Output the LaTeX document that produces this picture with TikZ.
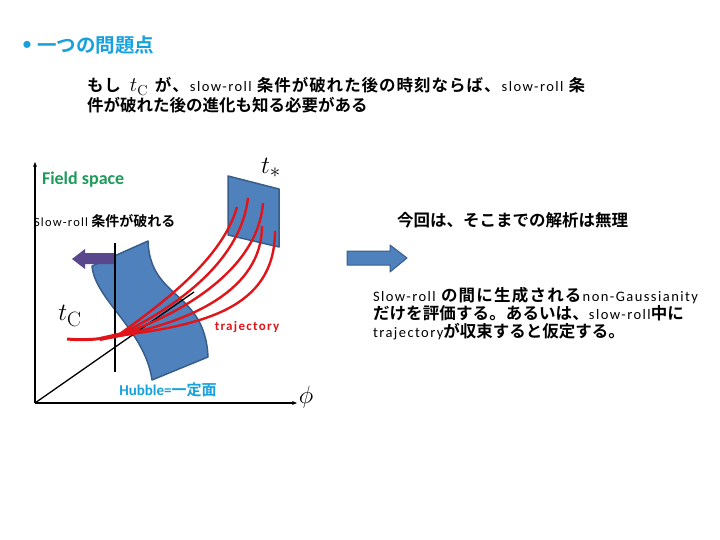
\documentclass[tikz,border=0pt]{standalone}
\usepackage[no-math]{fontspec}
\setmainfont{Carlito}
\newfontfamily\jp{Noto Sans CJK JP}[BoldFont={Noto Sans CJK JP Bold}]
\newfontfamily\latsp{Carlito}[LetterSpace=10]
\usetikzlibrary{arrows.meta}
\definecolor{hcyan}{RGB}{22,160,220}
\definecolor{fgreen}{RGB}{30,155,90}
\definecolor{apurple}{RGB}{90,70,140}
\definecolor{sblue}{RGB}{79,129,189}
\definecolor{sedge}{RGB}{56,93,138}
\definecolor{trajc}{RGB}{225,20,25}
\newcommand{\Jb}[1]{{\jp\bfseries #1}}
\newcommand{\Lt}[1]{{\latsp\mdseries\fontsize{14.5}{16}\selectfont #1}}
\newcommand{\Lr}[1]{{\latsp\mdseries\fontsize{14.5}{16}\selectfont #1}}
\newcommand{\G}{\hskip 0pt plus 1fil}
\tikzset{
  surf/.style={fill=sblue, draw=sedge, line width=1.5pt, line join=round},
  axisline/.style={line width=1.6pt, -{Stealth[length=5pt,width=4pt]}},
  trajline/.style={draw=trajc, line width=2.4pt},
  jptxt/.style={anchor=base west, font=\jp\bfseries\fontsize{16.5}{19}\selectfont},
  jpbig/.style={anchor=base west, font=\jp\bfseries\fontsize{16.5}{19}\selectfont},
  every node/.style={inner sep=0pt, outer sep=0pt}
}
\begin{document}
\begin{tikzpicture}[x=1pt,y=-1pt]
\useasboundingbox (0,0) rectangle (720,540);

% heading
\node[text=hcyan, font=\fontsize{20}{22}\selectfont] (bul) at (27,46) {•};
\node[anchor=base west, text=hcyan, font=\jp\bfseries\fontsize{19.5}{22}\selectfont] (head) at (37,53) {一つの問題点};
\node[jptxt] (l1) at (87,92) {\hbox to 498pt{も\G し\hskip 8pt plus 1fil{\huge$t_{\mathrm{C}}$}\hskip 6pt plus 1fil が\G 、\G\Lt{slow-roll}\hskip 4pt plus 1fil 条\G 件\G が\G 破\G れ\G た\G 後\G の\G 時\G 刻\G な\G ら\G ば\G 、\G\Lt{slow-roll}\hskip 4pt plus 1fil 条}};
\node[jptxt] (l2) at (87,112) {件が破れた後の進化も知る必要がある};

% surfaces
\draw[surf] (92,266) -- (148,241) .. controls (150,300) and (205,290) .. (208,357)
  -- (152,380) .. controls (145,330) and (95,300) .. (92,266) -- cycle;
\draw[surf] (228,176) -- (279,189) -- (279,247) -- (228,235) -- cycle;

% axes
\coordinate (O) at (35,403);
\coordinate (Ytop) at (35,162);
\coordinate (Xend) at (297,403);
\coordinate (D) at (194,292);
\draw[axisline] (O) -- (Ytop);
\draw[axisline] (O) -- (Xend);
\draw[line width=1.3pt] (O) -- (D);

% purple arrow
\fill[apurple] (115,253) -- (85,253) -- (85,249) -- (72,259) -- (85,269) -- (85,264) -- (115,264) -- cycle;

% vertical line
\coordinate (V1) at (115,243);
\coordinate (V2) at (115,372);
\draw[line width=2.5pt] (V1) -- (V2);

% trajectories
\coordinate (P) at (117,336);
\draw[trajline] (P) .. controls (160,305) and (222,260) .. (237,207);
\draw[trajline] (P) .. controls (170,310) and (240,265) .. (248,198);
\draw[trajline] (P) .. controls (180,315) and (258,270) .. (263,203);
\draw[trajline] (P) .. controls (190,322) and (262,290) .. (262,226);
\draw[trajline] (P) .. controls (200,325) and (275,310) .. (275,231);
\draw[trajline, line width=3pt] (67,339) .. controls (90,341) and (105,338) .. (P);
\fill[trajc] (100,337) -- (135,329) -- (140,333) -- (100,341) -- cycle;

% labels
\node[font=\Huge] (tc) at (70,316) {$t_{\mathrm{C}}$};
\node[font=\Huge] (ts) at (271,168) {$t_*$};
\node[font=\Huge] (phi) at (306,397) {$\phi$};
\node[anchor=base west, text=fgreen, font=\bfseries\fontsize{18}{20}\selectfont] (fs) at (42,185) {Field space};
\node[anchor=base west, font=\jp\bfseries\fontsize{14}{16}\selectfont] (sr) at (34,226) {{\latsp\mdseries\fontsize{12.5}{14}\selectfont Slow-roll} 条件が破れる};
\node[text=trajc, font=\latsp\bfseries\fontsize{13}{15}\selectfont] (trj) at (247,327) {trajectory};
\node[text=hcyan, font=\bfseries\fontsize{15}{17}\selectfont] (hub) at (168,390) {Hubble=\Jb{一定面}};

% blue arrow
\draw[fill=sblue, draw=sedge, line width=1pt, line join=round] (347,251) -- (390,251) -- (390,245) -- (407,258) -- (390,272) -- (390,265) -- (347,265) -- cycle;

% right texts
\node[jpbig] (r0) at (397,226) {今回は、そこまでの解析は無理};
\node[jptxt] (r1) at (373,301) {\hbox to 325pt{\Lr{Slow-roll}\hskip 4pt plus 1fil の\G 間\G に\G 生\G 成\G さ\G れ\G る\G\Lr{non-Gaussianity}}};
\node[jptxt] (r2) at (373,319) {\hbox to 311pt{だ\G け\G を\G 評\G 価\G す\G る\G 。\G あ\G る\G い\G は\G 、\G\Lr{slow-roll}\G 中\G に}};
\node[jptxt] (r3) at (373,337) {\Lr{trajectory}が収束すると仮定する。};
\end{tikzpicture}
\end{document}
